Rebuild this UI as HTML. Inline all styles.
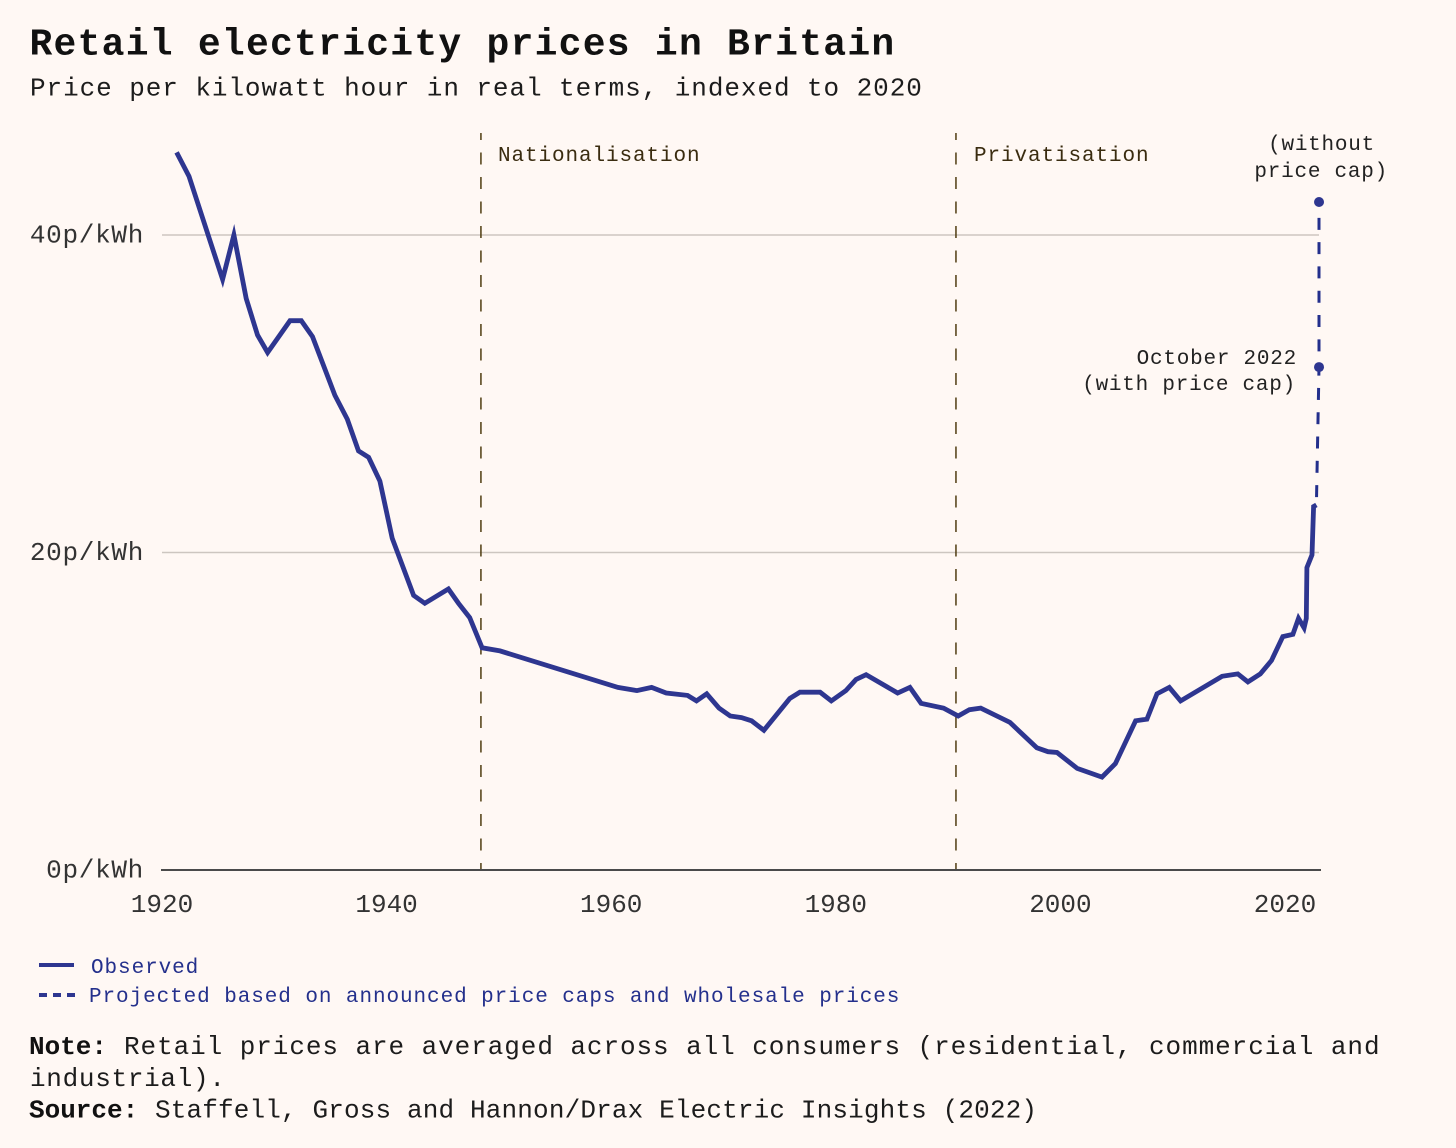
<!DOCTYPE html>
<html lang="en">
<head>
<meta charset="utf-8">
<title>Retail electricity prices in Britain</title>
<style>
  html, body { margin: 0; padding: 0; background: #fff8f4; }
  body { width: 1456px; height: 1148px; overflow: hidden; }
  svg { display: block; font-family: "Liberation Mono", monospace; }
  .title { font-size: 38px; font-weight: 700; letter-spacing: 1.25px; fill: #111; }
  .subtitle { font-size: 26px; letter-spacing: .93px; fill: #1c1c1c; }
  .tick { font-size: 26px; letter-spacing: .7px; fill: #333; }
  .xtick { font-size: 26px; letter-spacing: 0; fill: #333; }
  .era { font-size: 21px; letter-spacing: .9px; fill: #3a2c10; }
  .anno { font-size: 21px; letter-spacing: .76px; fill: #222; }
  .legend { font-size: 21px; letter-spacing: .92px; fill: #24308c; }
  .foot { font-size: 26px; letter-spacing: .93px; fill: #1c1c1c; }
  .foot-bold { font-weight: 700; fill: #111; letter-spacing: 0; }
</style>
</head>
<body>
<svg id="chart" width="1456" height="1148" viewBox="0 0 1456 1148" xmlns="http://www.w3.org/2000/svg">
  <rect width="1456" height="1148" fill="#fff8f4"/>
  <text class="title" x="29.5" y="54.5">Retail electricity prices in Britain</text>
  <text class="subtitle" x="30" y="95.5">Price per kilowatt hour in real terms, indexed to 2020</text>

  <g id="grid"></g>
  <g id="eras"></g>
  <g id="axes"></g>
  <g id="series"></g>

  <text class="era" x="498" y="161">Nationalisation</text>
  <text class="era" x="974" y="161">Privatisation</text>

  <text class="anno" x="1375" y="150" text-anchor="end">(without</text>
  <text class="anno" x="1388" y="177" text-anchor="end">price cap)</text>
  <text class="anno" x="1297" y="364" text-anchor="end">October 2022</text>
  <text class="anno" x="1296" y="390" text-anchor="end">(with price cap)</text>

  <line x1="39" y1="965" x2="74" y2="965" stroke="#2e3690" stroke-width="4"/>
  <text class="legend" x="91" y="973">Observed</text>
  <line x1="39" y1="995" x2="75" y2="995" stroke="#2e3690" stroke-width="4" stroke-dasharray="8 6"/>
  <text class="legend" x="89" y="1002">Projected based on announced price caps and wholesale prices</text>

  <text class="foot" y="1054"><tspan class="foot-bold" x="29">Note:</tspan><tspan x="124">Retail prices are averaged across all consumers (residential, commercial and</tspan></text>
  <text class="foot" x="30" y="1086" style="letter-spacing:.7px">industrial).</text>
  <text class="foot" y="1117.5"><tspan class="foot-bold" x="29">Source:</tspan><tspan x="155" style="letter-spacing:.15px">Staffell, Gross and Hannon/Drax Electric Insights (2022)</tspan></text>
</svg>

<script>
// ---- chart data ----
const observedYears = [1921.3,1922.4,1925.4,1926.4,1927.5,1928.5,1929.4,1931.4,1932.4,1933.4,1935.4,1936.5,1937.5,1938.4,1939.4,1940.5,1942.4,1943.4,1945.5,1946.4,1947.4,1948.5,1950.1,1960.6,1962.3,1963.6,1964.9,1966.8,1967.6,1968.5,1969.6,1970.6,1971.6,1972.5,1973.6,1975.9,1976.8,1978.6,1979.6,1980.9,1981.8,1982.7,1985.5,1986.6,1987.6,1989.6,1990.9,1991.9,1992.9,1995.5,1997.9,1998.9,1999.7,2001.5,2003.7,2004.9,2006.7,2007.7,2008.6,2009.7,2010.7,2014.4,2015.8,2016.7,2017.8,2018.8,2019.8,2020.7,2021.2,2021.7,2021.9,2021.95,2022.4,2022.55,2022.8];
const observedPrices = [45.2,43.7,37.2,40.0,36.0,33.7,32.6,34.6,34.6,33.6,29.9,28.4,26.4,26.0,24.5,20.9,17.3,16.8,17.7,16.8,15.9,14.0,13.8,11.5,11.3,11.5,11.15,11.0,10.65,11.1,10.2,9.7,9.6,9.4,8.8,10.8,11.2,11.2,10.65,11.3,12.0,12.3,11.15,11.5,10.5,10.2,9.7,10.1,10.2,9.3,7.7,7.45,7.4,6.4,5.85,6.7,9.4,9.5,11.1,11.5,10.65,12.2,12.35,11.85,12.35,13.2,14.7,14.85,15.85,15.25,15.85,19.05,19.85,22.9,23.0];
const projectedYears = [2022.8,2023.03,2023.03];
const projectedPrices = [23.0,31.68,42.08];
const markerYears = [2023.03,2023.03];
const markerPrices = [31.68,42.08];
const xTickLabels = ["1920","1940","1960","1980","2000","2020"];
const xTickYears = [1920,1940,1960,1980,2000,2020];
const yTickLabels = ["0p/kWh","20p/kWh","40p/kWh"];
const yTickValues = [0,20,40];
const eraYears = [1948.4,1990.7];

// ---- axis functions ----
function xScale(year) { return 162 + (year - 1920) * 11.23; }
function yScale(value) { return 870 - value * 15.875; }
function pathFrom(xs, ys) {
  return xs.map(function (x, i) {
    return (i ? "L" : "M") + xScale(x).toFixed(1) + " " + yScale(ys[i]).toFixed(1);
  }).join(" ");
}

const NS = "http://www.w3.org/2000/svg";
function make(tag, parent) {
  const el = document.createElementNS(NS, tag);
  document.getElementById(parent).appendChild(el);
  return el;
}

// gridlines and y tick labels
yTickValues.forEach(function (v, i) {
  if (v !== 0) {
    const g = make("line", "grid");
    
    
    g.setAttribute("x1", 162);
    g.setAttribute("x2", 1319);
    g.setAttribute("y1", yScale(v));
    g.setAttribute("y2", yScale(v));
    g.setAttribute("stroke", "#cdc6c0");
    g.setAttribute("stroke-width", "1.5");
  }
  const t = make("text", "axes");
  
  
  t.setAttribute("class", "tick");
  t.setAttribute("x", 144);
  t.setAttribute("y", yScale(v) + 7.5);
  t.setAttribute("text-anchor", "end");
  t.textContent = yTickLabels[i];
});

// era markers
eraYears.forEach(function (yr) {
  const l = make("line", "eras");
  
  
  l.setAttribute("x1", xScale(yr));
  l.setAttribute("x2", xScale(yr));
  l.setAttribute("y1", 133);
  l.setAttribute("y2", 870);
  l.setAttribute("stroke", "#4f3c10");
  l.setAttribute("stroke-width", "1.5");
  l.setAttribute("stroke-dasharray", "12 12.5");
  l.setAttribute("stroke-dashoffset", "5");
});

// x axis
const baseline = make("line", "axes");


baseline.setAttribute("x1", 161);
baseline.setAttribute("x2", 1321);
baseline.setAttribute("y1", yScale(0));
baseline.setAttribute("y2", yScale(0));
baseline.setAttribute("stroke", "#4a4a4a");
baseline.setAttribute("stroke-width", "2");

xTickYears.forEach(function (yr, i) {
  const t = make("text", "axes");
  
  
  t.setAttribute("class", "xtick");
  t.setAttribute("x", xScale(yr));
  t.setAttribute("y", 912);
  t.setAttribute("text-anchor", "middle");
  t.textContent = xTickLabels[i];
});

// projected dashed line
const projected = make("path", "series");


projected.setAttribute("d", pathFrom(projectedYears, projectedPrices));
projected.setAttribute("fill", "none");
projected.setAttribute("stroke", "#232f8c");
projected.setAttribute("stroke-width", "3");
projected.setAttribute("stroke-dasharray", "12 12.3");
projected.setAttribute("stroke-dashoffset", "16.5");

// observed line
const observed = make("path", "series");


observed.setAttribute("d", pathFrom(observedYears, observedPrices));
observed.setAttribute("fill", "none");
observed.setAttribute("stroke", "#2e3690");
observed.setAttribute("stroke-width", "4.8");
observed.setAttribute("stroke-linejoin", "miter");
observed.setAttribute("stroke-miterlimit", "6");

// markers
markerYears.forEach(function (yr, i) {
  const c = make("circle", "series");
  
  
  c.setAttribute("cx", xScale(yr));
  c.setAttribute("cy", yScale(markerPrices[i]));
  c.setAttribute("r", 5);
  c.setAttribute("fill", "#2e3690");
});
</script>
</body>
</html>
